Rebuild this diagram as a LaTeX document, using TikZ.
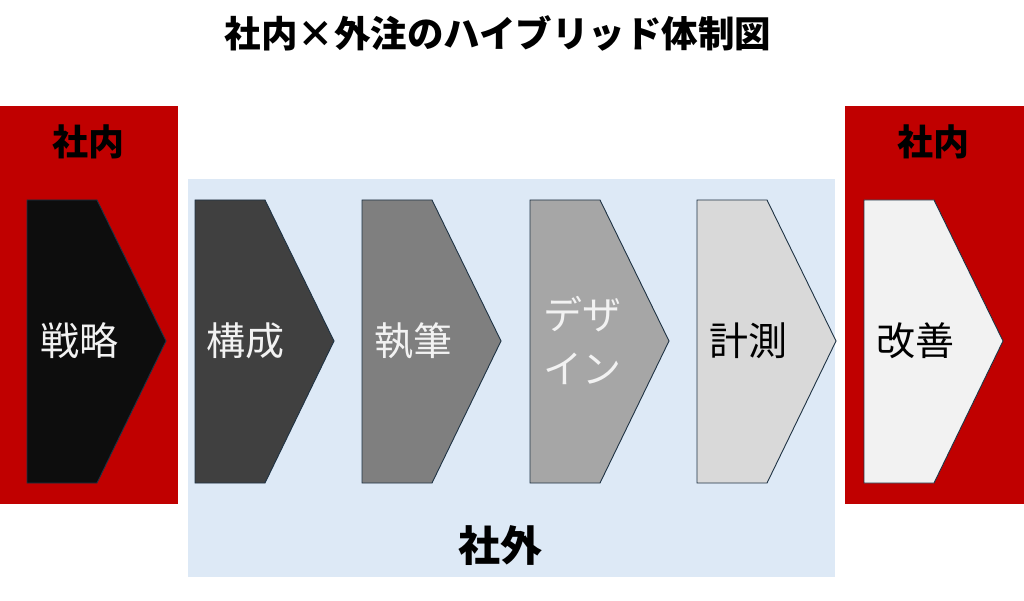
\documentclass[tikz,border=0pt]{standalone}
\usepackage{fontspec}
\newfontfamily\jp{Noto Sans CJK JP}
\definecolor{inred}{HTML}{C00000}
\definecolor{outblue}{HTML}{DDE9F6}
\definecolor{edgec}{HTML}{1F3344}
\definecolor{c1}{HTML}{0D0D0D}
\definecolor{c2}{HTML}{404040}
\definecolor{c3}{HTML}{7F7F7F}
\definecolor{c4}{HTML}{A6A6A6}
\definecolor{c5}{HTML}{D9D9D9}
\definecolor{c6}{HTML}{F2F2F2}
\tikzset{
  chevron/.style={draw=edgec, line width=0.9pt, line join=miter},
  lbl/.style={font=\jp\fontsize{39}{54}\selectfont, anchor=west, inner sep=0pt, align=left},
  head/.style={font=\jp\bfseries\fontsize{36}{40}\selectfont, inner sep=0pt},
}
\begin{document}
\begin{tikzpicture}[x=1pt,y=-1pt]
\useasboundingbox (0,0) rectangle (1024,601);
\fill[white] (0,0) rectangle (1024,601);
% title
\node[font=\jp\bfseries\fontsize{36.5}{40}\selectfont, inner sep=0pt] (title) at (498,33) {社内×外注のハイブリッド体制図};
% regions
\fill[inred] (0,106) rectangle (178,504);
\fill[inred] (845,106) rectangle (1024,504);
\fill[outblue] (188,179) rectangle (835,577);
\node[head] (inL) at (88,142) {社内};
\node[head] (inR) at (933,142) {社内};
\node[head, font=\jp\bfseries\fontsize{42}{46}\selectfont] (out) at (500,546) {社外};
% chevrons
\foreach \x/\c in {27/c1,195/c2,362/c3,530/c4,697/c5,864/c6}{
  \draw[chevron, fill=\c] (\x,200) -- ++(70,0) -- ++(69,141) -- ++(-69,142) -- ++(-70,0) -- cycle;
}
\node[lbl, text=c6] (s1) at (40,341) {戦略};
\node[lbl, text=c6] (s2) at (206,341) {構成};
\node[lbl, text=c6] (s3) at (374,341) {執筆};
\node[lbl, text=c6] (s4) at (543,340) {デザ\\イン};
\node[lbl, text=black] (s5) at (709,341) {計測};
\node[lbl, text=black] (s6) at (876,341) {改善};
\end{tikzpicture}
\end{document}
